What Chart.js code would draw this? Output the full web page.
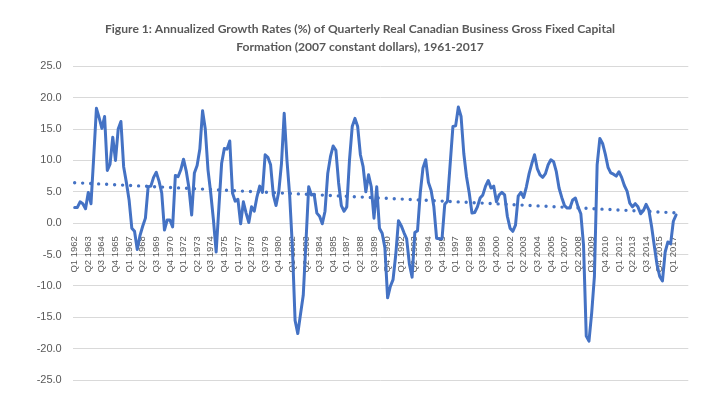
<!DOCTYPE html>
<html>
<head>
<meta charset="utf-8">
<script src="https://cdn.jsdelivr.net/npm/chart.js@4/dist/chart.umd.min.js"></script>
<style>
  html, body { margin: 0; padding: 0; background: #ffffff; }
  #wrap { width: 720px; height: 405px; position: relative; }
</style>
</head>
<body>
<div id="wrap"><canvas id="c" width="720" height="405"></canvas></div>
<script>
// ---- Data ----
const titleLines = [
  "Figure 1: Annualized Growth Rates (%) of Quarterly Real Canadian Business Gross Fixed Capital",
  "Formation (2007 constant dollars), 1961-2017"
];
const firstYear = 1962;          // first quarter shown: Q1 1962
const axisCategoryCount = 226;   // category slots on the horizontal axis (incl. trend forecast room)

// annualized growth rate (%), quarterly, Q1 1962 ... Q2 2017
const growthRates = [
  2.5, 2.5, 3.4, 3.1, 2.3, 4.9, 3.1, 10.5, 18.3, 16.8,
  15.1, 17.0, 8.4, 9.4, 13.7, 10.0, 15.0, 16.2, 9.0, 6.5,
  3.7, -0.8, -1.3, -4.2, -2.0, -0.5, 0.8, 5.8, 5.9, 7.3,
  8.1, 6.7, 4.8, -1.1, 0.5, 0.5, -0.6, 7.6, 7.4, 8.5,
  10.2, 8.3, 5.6, 1.3, 8.0, 9.2, 11.8, 17.9, 15.0, 8.5,
  4.8, 0.5, -4.6, 2.5, 9.5, 11.9, 11.8, 13.1, 4.8, 3.5,
  3.8, -0.1, 3.4, 1.6, 0.1, 2.6, 1.9, 4.2, 5.9, 4.9,
  10.9, 10.5, 9.3, 4.5, 2.8, 5.0, 9.5, 17.5, 10.1, 4.5,
  -3.7, -15.5, -17.6, -14.5, -11.5, -3.0, 5.8, 4.5, 4.6, 1.6,
  1.1, -0.1, 1.9, 7.9, 10.6, 12.3, 11.6, 6.4, 2.8, 1.9,
  2.6, 10.1, 15.4, 16.7, 15.4, 10.9, 9.0, 5.0, 7.7, 5.8,
  0.8, 5.8, -0.8, -1.6, -3.9, -11.9, -10.1, -9.0, -5.0, 0.4,
  -0.4, -1.5, -2.5, -6.5, -8.6, -1.5, -1.2, 4.8, 8.8, 10.1,
  6.5, 5.2, 2.6, -2.4, -2.5, -2.5, 3.0, 3.5, 9.5, 15.4,
  15.5, 18.5, 17.0, 11.1, 7.4, 4.8, 1.6, 1.7, 2.6, 4.0,
  4.5, 5.9, 6.8, 5.6, 5.9, 3.4, 4.5, 4.9, 4.5, 1.1,
  -0.8, -1.3, -0.3, 4.3, 4.9, 4.1, 5.8, 7.9, 9.5, 10.9,
  8.7, 7.7, 7.3, 7.9, 9.3, 10.1, 9.8, 8.2, 5.6, 4.1,
  2.8, 2.4, 2.4, 3.7, 4.0, 2.6, 1.5, -3.5, -18.0, -18.8,
  -14.3, -8.5, 9.3, 13.5, 12.7, 11.0, 8.9, 8.0, 7.8, 7.5,
  8.2, 7.3, 6.0, 5.1, 3.2, 2.6, 3.1, 2.6, 1.5, 2.0,
  3.0, 2.1, -0.5, -3.6, -6.6, -8.5, -9.2, -4.6, -3.0, -3.3,
  0.3, 1.3
];

// linear trend line (dotted), values read at its two ends
const trendStartValue = 6.45;
const trendEndValue = 1.6;
const trendEndIndex = 223;

// tick labels shown on the horizontal axis (every 5th quarter)
const tickLabels = [
  "Q1 1962","Q2 1963","Q3 1964","Q4 1965","Q1 1967","Q2 1968","Q3 1969","Q4 1970",
  "Q1 1972","Q2 1973","Q3 1974","Q4 1975","Q1 1977","Q2 1978","Q3 1979","Q4 1980",
  "Q1 1982","Q2 1983","Q3 1984","Q4 1985","Q1 1987","Q2 1988","Q3 1989","Q4 1990",
  "Q1 1992","Q2 1993","Q3 1994","Q4 1995","Q1 1997","Q2 1998","Q3 1999","Q4 2000",
  "Q1 2002","Q2 2003","Q3 2004","Q4 2005","Q1 2007","Q2 2008","Q3 2009","Q4 2010",
  "Q1 2012","Q2 2013","Q3 2014","Q4 2015","Q1 2017"
];
const tickEvery = 5;

const yMin = -25, yMax = 25, yStep = 5;

// ---- Build structures for Chart.js ----
const categories = [];
for (let i = 0; i < axisCategoryCount; i++) {
  categories.push("Q" + (i % 4 + 1) + " " + (firstYear + Math.floor(i / 4)));
}
const seriesData = categories.map((_, i) => (i < growthRates.length ? growthRates[i] : null));
const trendData = categories.map((_, i) => (i === 0 ? trendStartValue : (i === trendEndIndex ? trendEndValue : null)));

const gray = '#595959';
const blue = '#4472C4';

new Chart(document.getElementById('c'), {
  type: 'line',
  data: {
    labels: categories,
    datasets: [
      {
        label: 'Growth rate',
        data: seriesData,
        borderColor: blue,
        backgroundColor: blue,
        borderWidth: 3,
        pointRadius: 0,
        tension: 0,
        borderJoinStyle: 'round',
        borderCapStyle: 'round',
        spanGaps: false,
        order: 2
      },
      {
        label: 'Linear trend',
        data: trendData,
        borderColor: blue,
        borderWidth: 3.4,
        borderDash: [0, 8],
        borderCapStyle: 'round',
        pointRadius: 0,
        spanGaps: true,
        order: 1
      }
    ]
  },
  options: {
    responsive: false,
    animation: false,
    devicePixelRatio: 1,
    layout: { padding: { left: 31.7, right: 31.7, top: 0, bottom: 25 } },
    plugins: {
      legend: { display: false },
      tooltip: { enabled: false },
      title: {
        display: true,
        text: titleLines,
        color: gray,
        font: { family: 'Lato', size: 12.1, weight: 'bold', lineHeight: 1.5 },
        padding: { top: 20, bottom: 10 }
      }
    },
    scales: {
      x: {
        type: 'category',
        position: { y: 0 },
        offset: true,
        grid: { display: false },
        border: { display: false },
        ticks: {
          autoSkip: false,
          minRotation: 90,
          maxRotation: 90,
          padding: 5,
          color: gray,
          font: { family: 'Liberation Sans', size: 9.5 },
          callback: function (value, index) {
            if (index % tickEvery === 0) {
              const k = index / tickEvery;
              return k < tickLabels.length ? tickLabels[k] : '';
            }
            return '';
          }
        },
        afterFit: function (scale) { scale.height = 0; }
      },
      y: {
        min: yMin,
        max: yMax,
        grid: { color: '#d9d9d9', lineWidth: 1, drawTicks: false },
        border: { display: false },
        ticks: {
          stepSize: yStep,
          padding: 11.6,
          color: gray,
          font: { family: 'Liberation Sans', size: 11 },
          callback: v => Number(v).toFixed(1)
        },
        afterFit: function (scale) { scale.width = 41.6; }
      }
    }
  }
});
</script>
</body>
</html>
